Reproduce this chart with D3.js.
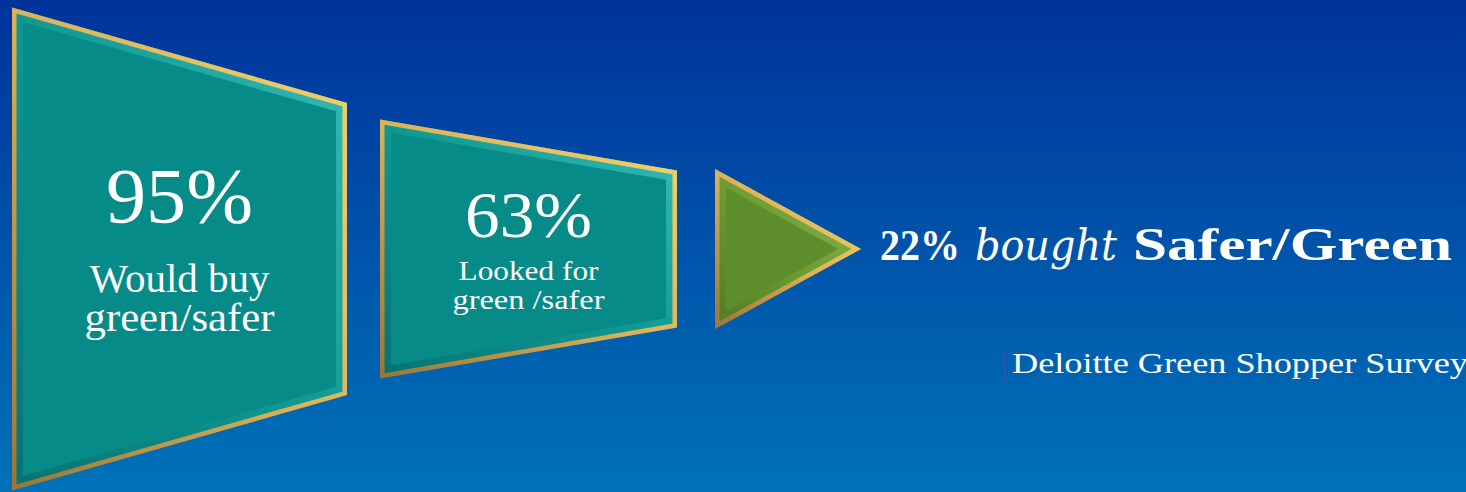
<!DOCTYPE html>
<html>
<head>
<meta charset="utf-8">
<title>Green shopper funnel</title>
<script src="https://d3js.org/d3.v7.min.js"></script>
<style>
  html, body { margin: 0; padding: 0; background: #0050a8; }
  svg { display: block; }
</style>
</head>
<body>
<script>
// stage data
var stageValues = [95, 63, 22];
var stageLabels = [["Would buy", "green/safer"], ["Looked for", "green /safer"], []];
var stageKinds = ["box", "box", "arrow"];
var resultText = ["22%", "bought", "Safer/Green"];
var sourceText = "Deloitte Green Shopper Survey";

var width = 1466, height = 492;

// funnel layout: x extent of each stage and half-height at its left / right edge
var stageX = [[12, 347], [380, 677], [715, 861]];
var stageHalf = [[241.5, 146], [129.5, 78.5], [80, 0]];
var midY = 249;

var x = d3.scaleLinear().domain([0, width]).range([0, width]);
var y = d3.scaleLinear().domain([-250, 250]).range([midY - 250, midY + 250]);

var svg = d3.select("body").append("svg")
  .attr("width", width)
  .attr("height", height);

var defs = svg.append("defs");

var bg = defs.append("linearGradient").attr("id", "bg")
  .attr("x1", 0).attr("y1", 0).attr("x2", 0).attr("y2", 1);
bg.append("stop").attr("offset", "0%").attr("stop-color", "#00339c");
bg.append("stop").attr("offset", "45%").attr("stop-color", "#0050a8");
bg.append("stop").attr("offset", "100%").attr("stop-color", "#0072b8");

var gold = defs.append("linearGradient").attr("id", "gold")
  .attr("x1", 1).attr("y1", 0).attr("x2", 0).attr("y2", 1);
gold.append("stop").attr("offset", "0%").attr("stop-color", "#f6d46a");
gold.append("stop").attr("offset", "50%").attr("stop-color", "#dcb158");
gold.append("stop").attr("offset", "100%").attr("stop-color", "#9c7438");

var bevelTeal = defs.append("linearGradient").attr("id", "bevelTeal")
  .attr("x1", 1).attr("y1", 0).attr("x2", 0).attr("y2", 1);
bevelTeal.append("stop").attr("offset", "0%").attr("stop-color", "#4cd0c8");
bevelTeal.append("stop").attr("offset", "45%").attr("stop-color", "#16a09a");
bevelTeal.append("stop").attr("offset", "100%").attr("stop-color", "#056a68");

var bevelGreen = defs.append("linearGradient").attr("id", "bevelGreen")
  .attr("x1", 1).attr("y1", 0).attr("x2", 0).attr("y2", 1);
bevelGreen.append("stop").attr("offset", "0%").attr("stop-color", "#9cc45a");
bevelGreen.append("stop").attr("offset", "50%").attr("stop-color", "#74a238");
bevelGreen.append("stop").attr("offset", "100%").attr("stop-color", "#4a7420");

svg.append("rect").attr("width", width).attr("height", height).attr("fill", "url(#bg)");

var line = d3.line().x(function(p) { return x(p[0]); }).y(function(p) { return y(p[1]); });

function outline(i) {
  var x0 = stageX[i][0], x1 = stageX[i][1];
  var h0 = stageHalf[i][0], h1 = stageHalf[i][1];
  if (h1 === 0) return [[x0, -h0], [x1, 0], [x0, h0]];
  return [[x0, -h0], [x1, -h1], [x1, h1], [x0, h0]];
}

var stages = stageValues.map(function(v, i) {
  return { value: v, label: stageLabels[i], kind: stageKinds[i], pts: outline(i), i: i };
});

stages.forEach(function(d) {
  defs.append("clipPath").attr("id", "clip" + d.i)
    .append("path").attr("d", line(d.pts) + "Z");
});

var g = svg.selectAll("g.stage").data(stages).enter().append("g").attr("class", "stage");

g.append("path")
  .attr("d", function(d) { return line(d.pts) + "Z"; })
  .attr("fill", function(d) { return d.kind === "arrow" ? "#5e8e2c" : "#078b88"; });

g.append("path")
  .attr("d", function(d) { return line(d.pts) + "Z"; })
  .attr("clip-path", function(d) { return "url(#clip" + d.i + ")"; })
  .attr("fill", "none")
  .attr("stroke", function(d) { return d.kind === "arrow" ? "url(#bevelGreen)" : "url(#bevelTeal)"; })
  .attr("stroke-width", 22)
  .attr("stroke-linejoin", "miter")
  .attr("opacity", 0.75);

g.append("path")
  .attr("d", function(d) { return line(d.pts) + "Z"; })
  .attr("clip-path", function(d) { return "url(#clip" + d.i + ")"; })
  .attr("fill", "none")
  .attr("stroke", "url(#gold)")
  .attr("stroke-width", 9)
  .attr("stroke-linejoin", "miter");

// labels inside the boxes
var serif = "'Liberation Serif', 'DejaVu Serif', serif";
var big = [78, 66];
var bigW = [147, 127];
var small = [39, 28];
var smallW = [[180, 190], [140, 152]];
var bigY = [222, 237];
var lineY = [[292, 331], [280, 309]];

g.filter(function(d) { return d.kind === "box"; }).each(function(d) {
  var cx = x((stageX[d.i][0] + stageX[d.i][1]) / 2);
  var sel = d3.select(this);
  sel.append("text")
    .attr("x", cx).attr("y", bigY[d.i])
    .attr("text-anchor", "middle")
    .attr("fill", "#ffffff")
    .attr("font-family", serif)
    .attr("font-size", big[d.i])
    .attr("textLength", bigW[d.i])
    .attr("lengthAdjust", "spacingAndGlyphs")
    .text(d.value + "%");
  d.label.forEach(function(t, k) {
    sel.append("text")
      .attr("x", cx).attr("y", lineY[d.i][k])
      .attr("text-anchor", "middle")
      .attr("fill", "#ffffff")
      .attr("font-family", serif)
      .attr("font-size", small[d.i])
      .attr("textLength", smallW[d.i][k])
      .attr("lengthAdjust", "spacingAndGlyphs")
      .text(t);
  });
});

// result text beside the arrow
var resX = [880, 975, 1133];
var resW = [80, 142, 319];
var resSize = [44, 42, 46];
resultText.forEach(function(t, k) {
  svg.append("text")
    .attr("x", resX[k]).attr("y", 260)
    .attr("fill", "#ffffff")
    .attr("font-family", k === 1 ? "'DejaVu Serif', serif" : serif)
    .attr("font-style", k === 1 ? "italic" : "normal")
    .attr("font-weight", k === 1 ? "normal" : "bold")
    .attr("font-size", resSize[k])
    .attr("textLength", resW[k])
    .attr("lengthAdjust", "spacingAndGlyphs")
    .text(t);
});

// source
svg.append("line")
  .attr("x1", 1005).attr("x2", 1005).attr("y1", 351).attr("y2", 381)
  .attr("stroke", "#4a4aa0").attr("stroke-width", 1.2);
svg.append("text")
  .attr("x", 1012).attr("y", 373)
  .attr("fill", "#ffffff")
  .attr("font-family", serif)
  .attr("font-size", 30)
  .attr("textLength", 456)
  .attr("lengthAdjust", "spacingAndGlyphs")
  .text(sourceText);
</script>
</body>
</html>
